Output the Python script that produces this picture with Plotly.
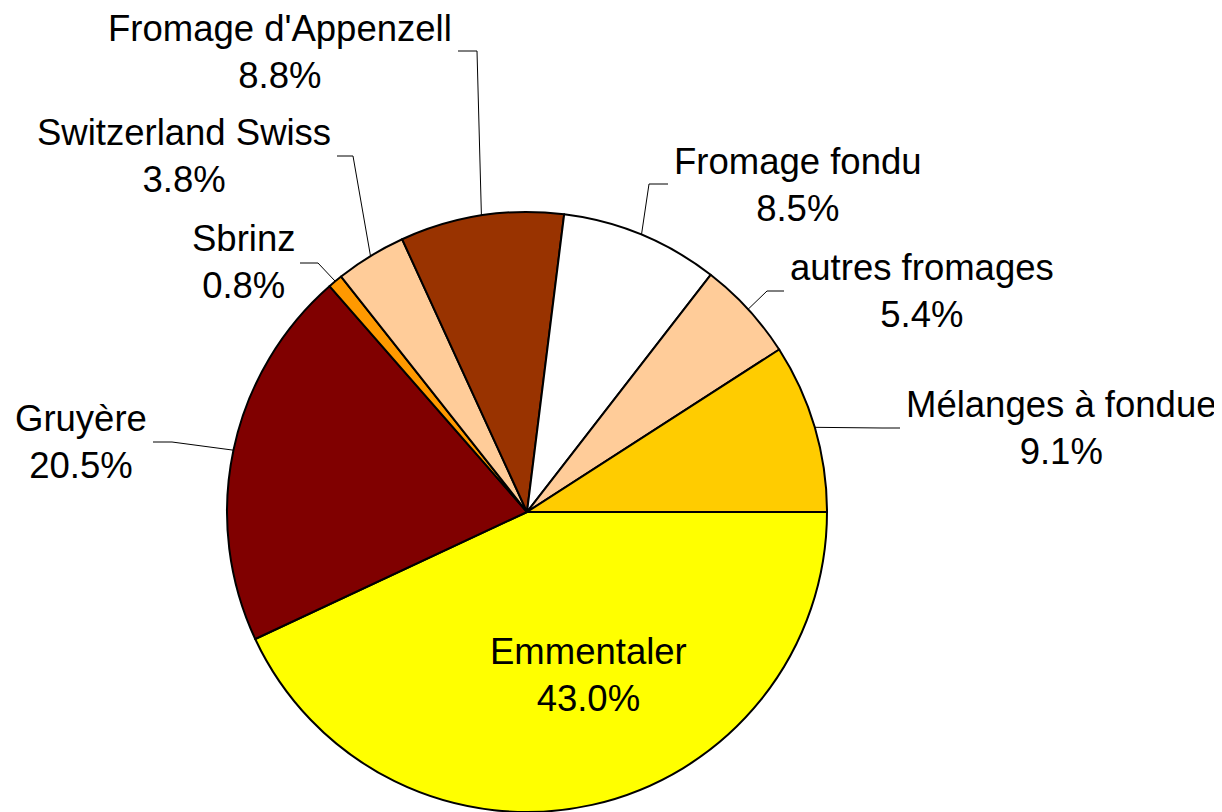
import numpy as np
import plotly.graph_objects as go

# data
cheeses = ["Emmentaler", "Gruyère", "Sbrinz", "Switzerland Swiss",
           "Fromage d'Appenzell", "Fromage fondu", "autres fromages",
           "Mélanges à fondue"]
shares = [43.0, 20.5, 0.8, 3.8, 8.8, 8.5, 5.4, 9.1]
colors = ["#FFFF00", "#800000", "#FF9900", "#FFCC99",
          "#993300", "#FFFFFF", "#FFCC99", "#FFCC00"]

OFF = 8                      # page body margin
W, H = 1222 - OFF, 812 - OFF
cx, cy, r = 527, 512, 300    # pie centre / radius in page pixels

# label centres and leader elbows (page pixels), None = label inside the slice
label_pos = [(588, 675), (81, 442), (243, 262), (184, 156),
             (280, 52), (798, 185), (922, 291), (1061, 428)]
elbow_pos = [None, (172, 442), (318, 263), (353, 156),
             (477, 51), (649, 184), (767, 291), (882, 428)]
line_end = [None, (153, 442), (300, 263), (337, 156),
            (458, 51), (668, 184), (784, 291), (900, 428)]


def to_paper(x, y):
    return (x - OFF) / W, 1 - (y - OFF) / H


x0, y0 = to_paper(cx - r, cy + r)
x1, y1 = to_paper(cx + r, cy - r)

fig = go.Figure(go.Pie(
    labels=cheeses, values=shares, sort=False, direction="clockwise",
    rotation=90, textinfo="none",
    marker=dict(colors=colors, line=dict(color="black", width=2)),
    domain=dict(x=[x0, x1], y=[max(y0, 0), y1]),
    showlegend=False,
))

# percentages and slice mid-angles
vals = np.array(shares)
pct = vals / vals.sum() * 100
cum = np.cumsum(pct) - pct / 2
mid = np.deg2rad(cum / 100 * 360)   # clockwise from 3 o'clock

shapes = []
annotations = []
for i, name in enumerate(cheeses):
    lx, ly = to_paper(*label_pos[i])
    annotations.append(dict(
        x=lx, y=ly, xref="paper", yref="paper", xanchor="center",
        yanchor="middle", align="center", showarrow=False,
        text=f"{name}<br>{pct[i]:.1f}%",
        font=dict(family="Liberation Sans, Arial", size=36.5, color="black"),
    ))
    if elbow_pos[i] is None:
        continue
    ex = cx + r * np.cos(mid[i])
    ey = cy + r * np.sin(mid[i])
    pts = [to_paper(ex, ey), to_paper(*elbow_pos[i]), to_paper(*line_end[i])]
    path = "M {} {} L {} {} L {} {}".format(*[c for p in pts for c in p])
    shapes.append(dict(type="path", path=path, xref="paper", yref="paper",
                       line=dict(color="black", width=1)))

fig.update_layout(
    width=W, height=H, margin=dict(l=0, r=0, t=0, b=0),
    paper_bgcolor="white", plot_bgcolor="white",
    shapes=shapes, annotations=annotations,
)
fig.write_html("out.html")
